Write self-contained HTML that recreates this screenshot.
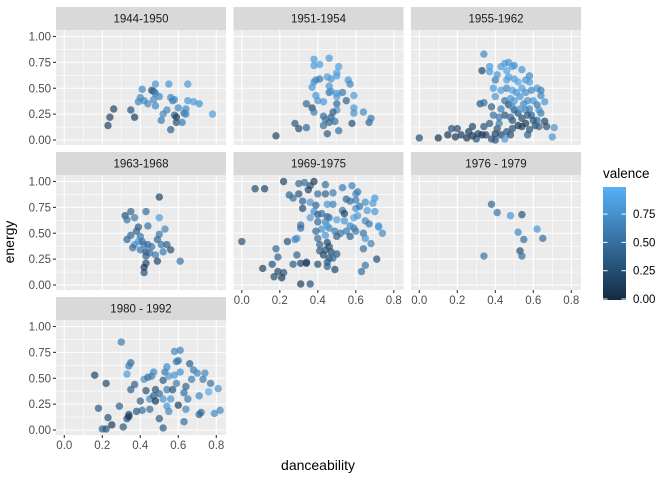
<!DOCTYPE html>
<html><head><meta charset="utf-8"><style>
body{margin:0;background:#fff}
svg{display:block;font-family:"Liberation Sans",Arial,sans-serif}
</style></head><body>
<svg id="chart" width="672" height="480" viewBox="0 0 672 480" xmlns="http://www.w3.org/2000/svg">
<defs><linearGradient id="vg" x1="0" y1="1" x2="0" y2="0"><stop offset="0" stop-color="#132B43"/><stop offset="1" stop-color="#56B1F7"/></linearGradient></defs>
<g id="panels"></g>
<text x="318" y="470" text-anchor="middle" font-size="14" fill="#000">danceability</text>
<text transform="translate(14,242) rotate(-90)" text-anchor="middle" font-size="14" fill="#000">energy</text>
<g>
<text x="603" y="178" font-size="13.5" fill="#000">valence</text>
<rect x="603" y="187" width="23" height="113" fill="url(#vg)"/>
<g id="legticks"></g>
</g>
</svg>
<script>
const facetNames = ["1944-1950","1951-1954","1955-1962","1963-1968","1969-1975","1976 - 1979","1980 - 1992"];
const xTicks = [0,0.2,0.4,0.6,0.8];
const xTickLabels = ["0.0","0.2","0.4","0.6","0.8"];
const yTicks = [0,0.25,0.5,0.75,1];
const yTickLabels = ["0.00","0.25","0.50","0.75","1.00"];
const legendTicks = [0,0.25,0.5,0.75];
const legendLabels = ["0.00","0.25","0.50","0.75"];
// [danceability, energy, valence]
const p1944 = [[0.23,0.14,0.2],[0.24,0.22,0.2],[0.26,0.30,0.2],[0.35,0.29,0.3],[0.37,0.22,0.15],[0.39,0.37,0.7],[0.40,0.41,0.7],[0.41,0.49,0.7],[0.42,0.38,0.7],[0.44,0.35,0.7],[0.46,0.48,0.3],[0.47,0.47,0.4],[0.47,0.39,0.7],[0.48,0.33,0.7],[0.48,0.54,0.8],[0.48,0.45,0.6],[0.50,0.42,0.7],[0.51,0.19,0.6],[0.52,0.25,0.7],[0.54,0.29,0.7],[0.55,0.54,0.8],[0.56,0.41,0.7],[0.56,0.10,0.4],[0.57,0.38,0.6],[0.58,0.24,0.4],[0.58,0.39,0.7],[0.59,0.22,0.15],[0.59,0.17,0.3],[0.60,0.31,0.7],[0.62,0.17,0.6],[0.63,0.26,0.5],[0.64,0.30,0.7],[0.64,0.25,0.7],[0.65,0.54,0.8],[0.65,0.38,0.8],[0.68,0.37,0.85],[0.71,0.35,0.75],[0.78,0.25,0.85]];
const p1951 = [[0.18,0.04,0.2],[0.28,0.16,0.35],[0.30,0.11,0.25],[0.34,0.12,0.45],[0.34,0.35,0.45],[0.37,0.31,0.25],[0.38,0.27,0.6],[0.39,0.43,0.8],[0.40,0.38,0.8],[0.43,0.37,0.8],[0.37,0.51,0.8],[0.38,0.56,0.8],[0.39,0.58,0.7],[0.38,0.72,0.85],[0.38,0.78,0.85],[0.41,0.73,0.85],[0.41,0.59,0.6],[0.45,0.61,0.85],[0.46,0.79,0.85],[0.47,0.59,0.8],[0.50,0.62,0.85],[0.50,0.65,0.9],[0.51,0.71,0.85],[0.46,0.52,0.8],[0.46,0.46,0.55],[0.47,0.47,0.8],[0.50,0.45,0.8],[0.50,0.42,0.85],[0.53,0.46,0.6],[0.50,0.35,0.45],[0.50,0.29,0.8],[0.48,0.27,0.4],[0.47,0.22,0.4],[0.43,0.23,0.5],[0.44,0.20,0.55],[0.43,0.14,0.5],[0.46,0.17,0.45],[0.49,0.18,0.5],[0.45,0.06,0.35],[0.51,0.09,0.5],[0.55,0.38,0.4],[0.56,0.58,0.8],[0.57,0.54,0.7],[0.59,0.43,0.85],[0.59,0.31,0.8],[0.59,0.26,0.75],[0.58,0.16,0.3],[0.64,0.27,0.7],[0.67,0.17,0.45],[0.68,0.21,0.6]];
const p1955 = [[0.0,0.02,0.25],[0.10,0.02,0.05],[0.15,0.05,0.1],[0.17,0.11,0.3],[0.19,0.03,0.1],[0.20,0.11,0.25],[0.22,0.05,0.15],[0.25,0.02,0.1],[0.26,0.08,0.15],[0.28,0.13,0.2],[0.30,0.01,0.3],[0.31,0.06,0.2],[0.34,0.13,0.3],[0.35,0.05,0.2],[0.37,0.16,0.35],[0.38,0.01,0.3],[0.40,0.06,0.15],[0.41,0.11,0.3],[0.43,0.05,0.2],[0.45,0.01,0.8],[0.46,0.08,0.3],[0.48,0.05,0.3],[0.49,0.11,0.25],[0.52,0.14,0.1],[0.54,0.13,0.15],[0.56,0.16,0.15],[0.57,0.05,0.4],[0.58,0.10,0.3],[0.61,0.14,0.25],[0.63,0.13,0.4],[0.66,0.18,0.2],[0.67,0.13,0.3],[0.71,0.12,0.8],[0.70,0.03,0.8],[0.33,0.05,0.1],[0.28,0.04,0.1],[0.40,0.0,0.3],[0.49,0.19,0.3],[0.52,0.26,0.3],[0.54,0.21,0.25],[0.50,0.29,0.35],[0.45,0.24,0.3],[0.42,0.16,0.6],[0.39,0.24,0.5],[0.59,0.24,0.4],[0.62,0.19,0.5],[0.64,0.26,0.6],[0.34,0.83,0.7],[0.33,0.67,0.2],[0.37,0.71,0.85],[0.37,0.66,0.85],[0.32,0.35,0.35],[0.34,0.36,0.5],[0.38,0.32,0.4],[0.40,0.58,0.6],[0.39,0.50,0.8],[0.40,0.42,0.8],[0.41,0.63,0.8],[0.43,0.71,0.85],[0.45,0.74,0.85],[0.47,0.75,0.8],[0.46,0.67,0.9],[0.49,0.71,0.85],[0.50,0.72,0.8],[0.54,0.68,0.8],[0.46,0.58,0.9],[0.47,0.61,0.85],[0.50,0.59,0.85],[0.52,0.56,0.9],[0.56,0.58,0.8],[0.58,0.62,0.7],[0.58,0.56,0.85],[0.43,0.48,0.85],[0.46,0.50,0.7],[0.49,0.48,0.9],[0.51,0.46,0.8],[0.54,0.50,0.85],[0.56,0.46,0.75],[0.59,0.48,0.7],[0.62,0.50,0.8],[0.64,0.48,0.6],[0.64,0.43,0.7],[0.45,0.38,0.5],[0.48,0.40,0.8],[0.50,0.38,0.85],[0.53,0.42,0.8],[0.55,0.35,0.7],[0.57,0.38,0.75],[0.60,0.38,0.8],[0.62,0.34,0.6],[0.66,0.37,0.8],[0.43,0.30,0.6],[0.47,0.34,0.3],[0.49,0.32,0.7],[0.53,0.30,0.8],[0.56,0.29,0.7],[0.58,0.30,0.65],[0.63,0.29,0.75],[0.42,0.22,0.55],[0.48,0.22,0.45],[0.57,0.24,0.35],[0.60,0.19,0.3]];
const p1963 = [[0.50,0.85,0.2],[0.35,0.71,0.45],[0.32,0.67,0.3],[0.33,0.63,0.55],[0.37,0.65,0.6],[0.43,0.71,0.5],[0.50,0.65,0.85],[0.39,0.56,0.35],[0.44,0.57,0.55],[0.38,0.52,0.4],[0.35,0.48,0.45],[0.33,0.44,0.45],[0.40,0.47,0.55],[0.39,0.42,0.8],[0.37,0.39,0.75],[0.36,0.36,0.5],[0.41,0.42,0.5],[0.42,0.39,0.6],[0.44,0.39,0.5],[0.46,0.37,0.55],[0.40,0.34,0.55],[0.43,0.32,0.3],[0.45,0.31,0.55],[0.48,0.29,0.6],[0.43,0.28,0.4],[0.49,0.44,0.4],[0.50,0.49,0.55],[0.53,0.54,0.7],[0.51,0.39,0.55],[0.54,0.39,0.4],[0.56,0.34,0.3],[0.52,0.32,0.6],[0.49,0.23,0.2],[0.43,0.21,0.25],[0.42,0.17,0.1],[0.42,0.12,0.3],[0.61,0.23,0.55]];
const p1969 = [[0.22,1.0,0.2],[0.07,0.93,0.25],[0.12,0.93,0.2],[0.30,0.98,0.45],[0.33,0.99,0.5],[0.36,0.96,0.3],[0.38,1.0,0.15],[0.44,0.97,0.5],[0.35,0.92,0.2],[0.30,0.88,0.3],[0.25,0.87,0.4],[0.27,0.84,0.5],[0.32,0.81,0.4],[0.32,0.74,0.25],[0.40,0.88,0.5],[0.44,0.88,0.4],[0.48,0.89,0.6],[0.53,0.94,0.6],[0.58,0.96,0.65],[0.60,0.88,0.7],[0.61,0.90,0.6],[0.55,0.83,0.45],[0.57,0.81,0.5],[0.60,0.82,0.6],[0.65,0.80,0.75],[0.70,0.84,0.8],[0.69,0.79,0.85],[0.36,0.80,0.8],[0.39,0.77,0.4],[0.45,0.78,0.8],[0.48,0.78,0.65],[0.53,0.72,0.55],[0.54,0.69,0.2],[0.60,0.74,0.75],[0.62,0.76,0.55],[0.66,0.72,0.85],[0.70,0.71,0.8],[0.38,0.71,0.75],[0.40,0.68,0.4],[0.42,0.69,0.5],[0.45,0.66,0.4],[0.36,0.65,0.85],[0.40,0.61,0.45],[0.44,0.61,0.7],[0.46,0.65,0.6],[0.50,0.63,0.9],[0.54,0.62,0.8],[0.59,0.65,0.9],[0.61,0.67,0.85],[0.65,0.62,0.7],[0.67,0.59,0.55],[0.72,0.57,0.85],[0.74,0.50,0.7],[0.31,0.58,0.55],[0.31,0.55,0.5],[0.42,0.54,0.75],[0.45,0.57,0.85],[0.46,0.55,0.75],[0.49,0.52,0.6],[0.52,0.50,0.55],[0.55,0.52,0.6],[0.57,0.47,0.4],[0.59,0.55,0.6],[0.60,0.52,0.6],[0.57,0.57,0.7],[0.64,0.50,0.55],[0.65,0.45,0.8],[0.68,0.40,0.65],[0.64,0.35,0.5],[0.39,0.52,0.45],[0.40,0.45,0.5],[0.44,0.48,0.8],[0.50,0.47,0.4],[0.29,0.45,0.75],[0.28,0.44,0.7],[0.24,0.42,0.3],[0.0,0.42,0.3],[0.41,0.39,0.4],[0.45,0.41,0.2],[0.46,0.37,0.25],[0.44,0.34,0.3],[0.41,0.33,0.35],[0.47,0.32,0.25],[0.50,0.30,0.35],[0.43,0.29,0.2],[0.46,0.26,0.3],[0.45,0.22,0.35],[0.48,0.26,0.45],[0.18,0.35,0.45],[0.19,0.27,0.4],[0.16,0.20,0.3],[0.11,0.16,0.2],[0.27,0.20,0.35],[0.29,0.29,0.4],[0.31,0.21,0.2],[0.34,0.22,0.25],[0.34,0.21,0.15],[0.40,0.20,0.25],[0.45,0.18,0.4],[0.49,0.15,0.2],[0.19,0.13,0.2],[0.22,0.12,0.3],[0.17,0.08,0.25],[0.21,0.07,0.1],[0.31,0.01,0.15],[0.36,0.01,0.3],[0.71,0.25,0.25],[0.65,0.19,0.55],[0.63,0.13,0.5],[0.72,0.56,0.8]];
const p1976 = [[0.38,0.78,0.45],[0.41,0.70,0.55],[0.48,0.67,0.8],[0.54,0.68,0.3],[0.62,0.54,0.8],[0.52,0.51,0.7],[0.55,0.44,0.5],[0.65,0.45,0.5],[0.53,0.33,0.3],[0.54,0.28,0.5],[0.34,0.28,0.55]];
const p1980 = [[0.30,0.85,0.6],[0.35,0.65,0.5],[0.34,0.62,0.6],[0.33,0.54,0.85],[0.16,0.53,0.2],[0.22,0.45,0.25],[0.37,0.44,0.4],[0.35,0.39,0.4],[0.42,0.49,0.75],[0.44,0.51,0.5],[0.46,0.52,0.6],[0.47,0.56,0.7],[0.43,0.38,0.3],[0.40,0.28,0.4],[0.41,0.19,0.5],[0.38,0.18,0.35],[0.34,0.15,0.3],[0.33,0.11,0.3],[0.34,0.13,0.1],[0.29,0.23,0.4],[0.18,0.21,0.35],[0.23,0.12,0.3],[0.20,0.01,0.4],[0.22,0.01,0.3],[0.25,0.05,0.15],[0.31,0.03,0.35],[0.45,0.20,0.5],[0.45,0.30,0.7],[0.47,0.33,0.4],[0.48,0.39,0.3],[0.48,0.28,0.1],[0.50,0.35,0.5],[0.52,0.48,0.35],[0.52,0.30,0.8],[0.50,0.11,0.35],[0.52,0.02,0.35],[0.53,0.56,0.6],[0.54,0.61,0.7],[0.55,0.52,0.8],[0.54,0.39,0.6],[0.54,0.23,0.8],[0.55,0.18,0.7],[0.56,0.30,0.8],[0.57,0.39,0.3],[0.58,0.53,0.8],[0.59,0.66,0.6],[0.58,0.76,0.7],[0.61,0.77,0.65],[0.60,0.67,0.55],[0.61,0.56,0.75],[0.60,0.24,0.15],[0.63,0.36,0.5],[0.64,0.20,0.7],[0.63,0.08,0.5],[0.65,0.30,0.6],[0.66,0.64,0.4],[0.67,0.49,0.6],[0.68,0.58,0.6],[0.70,0.55,0.7],[0.71,0.33,0.7],[0.72,0.17,0.5],[0.71,0.15,0.4],[0.74,0.55,0.7],[0.73,0.49,0.6],[0.76,0.37,0.95],[0.77,0.45,0.55],[0.79,0.16,0.7],[0.81,0.40,0.8],[0.82,0.19,0.7],[0.59,0.45,0.6],[0.64,0.42,0.4]];
const facetData = [p1944,p1951,p1955,p1963,p1969,p1976,p1980];

const NS="http://www.w3.org/2000/svg";
const colLeft=[56,233.5,411], rowTop=[30,175,320], PW=170, PH=115, SH=23;
const xScale=(c,v)=>colLeft[c]+8.3+v*190;
const yScale=(r,v)=>rowTop[r]+110-v*103.5;
function col(v){const a=[0x13,0x2B,0x43],b=[0x56,0xB1,0xF7];return "rgb("+a.map((x,i)=>Math.round(x+(b[i]-x)*v)).join(",")+")";}
function mk(tag,attrs,parent){const e=document.createElementNS(NS,tag);for(const k in attrs)e.setAttribute(k,attrs[k]);parent.appendChild(e);return e;}
const root=document.getElementById("panels");
facetNames.forEach((name,i)=>{
  const r=Math.floor(i/3), c=i%3;
  const g=mk("g",{},root);
  
  
  const L=colLeft[c], T=rowTop[r];
  const strip=mk("rect",{x:L,y:T-SH,width:PW,height:SH,fill:"#D9D9D9"},g);
  
  
  const st=mk("text",{x:L+PW/2,y:T-7.5,"text-anchor":"middle","font-size":"11.5",fill:"#1A1A1A"},g);
  st.textContent=name;
  
  
  const bg=mk("rect",{x:L,y:T,width:PW,height:PH,fill:"#EBEBEB"},g);
  
  
  // minor grid
  [-0.1,0.1,0.3,0.5,0.7].forEach(v=>{const x=xScale(c,v);if(x>L&&x<L+PW)mk("line",{x1:x,x2:x,y1:T,y2:T+PH,stroke:"#fff","stroke-width":0.55},g);});
  [0.125,0.375,0.625,0.875].forEach(v=>{const y=yScale(r,v);mk("line",{x1:L,x2:L+PW,y1:y,y2:y,stroke:"#fff","stroke-width":0.55},g);});
  xTicks.forEach(v=>{const x=xScale(c,v);mk("line",{x1:x,x2:x,y1:T,y2:T+PH,stroke:"#fff","stroke-width":1.1},g);});
  yTicks.forEach(v=>{const y=yScale(r,v);mk("line",{x1:L,x2:L+PW,y1:y,y2:y,stroke:"#fff","stroke-width":1.1},g);});
  facetData[i].forEach(d=>{
    const p=mk("circle",{cx:xScale(c,d[0]),cy:yScale(r,d[1]),r:3.7,fill:col(d[2]),"fill-opacity":0.7},g);
    
    
  });
  if(c===0){
    yTicks.forEach((v,k)=>{const y=yScale(r,v);
      mk("line",{x1:L-3,x2:L,y1:y,y2:y,stroke:"#333","stroke-width":1.1},g);
      const t=mk("text",{x:L-5,y:y+4,"text-anchor":"end","font-size":"11.5",fill:"#4D4D4D"},g);
      t.textContent=yTickLabels[k];
      
      });
  }
  const bottom=(c===0&&r===2)||(c>0&&r===1);
  if(bottom){
    xTicks.forEach((v,k)=>{const x=xScale(c,v);
      mk("line",{x1:x,x2:x,y1:T+PH,y2:T+PH+3,stroke:"#333","stroke-width":1.1},g);
      const t=mk("text",{x:x,y:T+PH+14,"text-anchor":"middle","font-size":"11.5",fill:"#4D4D4D"},g);
      t.textContent=xTickLabels[k];
      
      });
  }
});
const lg=document.getElementById("legticks");
const ly=v=>299-v*113.2;
legendTicks.forEach((v,k)=>{const y=ly(v);
  mk("line",{x1:603,x2:607.5,y1:y,y2:y,stroke:"#fff","stroke-width":1},lg);
  mk("line",{x1:621.5,x2:626,y1:y,y2:y,stroke:"#fff","stroke-width":1},lg);
  const t=mk("text",{x:633,y:y+4,"font-size":"11.5",fill:"#000"},lg);
  t.textContent=legendLabels[k];
  
  });
</script>
</body></html>
